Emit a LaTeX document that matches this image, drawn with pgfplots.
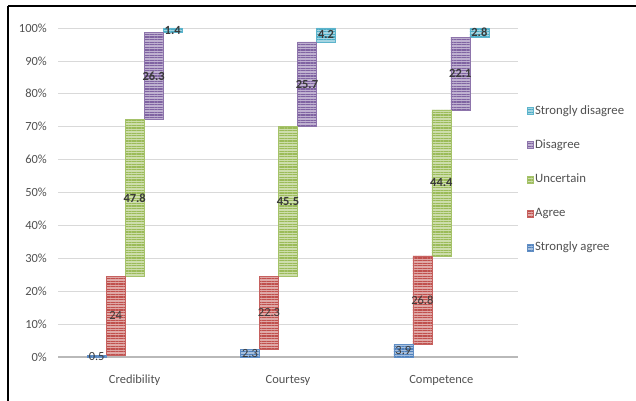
\documentclass[border=0pt]{standalone}
\usepackage{fontspec}
\setmainfont{Carlito}
\usepackage{pgfplots}
\pgfplotsset{compat=1.18}
\usetikzlibrary{patterns.meta}
\definecolor{cSA}{HTML}{4F81BD}
\definecolor{cA}{HTML}{C0504D}
\definecolor{cU}{HTML}{9BBB59}
\definecolor{cD}{HTML}{8064A2}
\definecolor{cSD}{HTML}{4BACC6}
\definecolor{tgray}{HTML}{505050}
\definecolor{lgray}{HTML}{3A3A3A}
\pgfplotsset{
  barsty/.style={fill=#1!50, draw=#1!90, line width=0.4bp,
    postaction={pattern={Lines[angle=0,distance=2.6bp,line width=1.3bp]}, pattern color=#1}},
  lbl/.style={nodes near coords={\pgfmathprintnumber{\rawy}},
    visualization depends on=rawy \as \rawy,
    every node near coord/.append style={anchor=center, inner sep=0pt,
      text=lgray, font=\fontsize{12.5}{14}\selectfont#1}},
}
\begin{document}
\begin{tikzpicture}[font=\fontsize{12.5}{14}\selectfont]
\useasboundingbox (-58bp,-44bp) rectangle (578bp,357bp);
\draw[line width=1.2bp] (-50bp,351bp) -- (578bp,351bp);
\draw[line width=1.2bp] (-50bp,351bp) -- (-50bp,-44bp);
\begin{axis}[at={(0,0)}, anchor=south west, scale only axis,
  width=460bp, height=329bp,
  ybar stacked, bar width=19bp,
  xmin=-0.5, xmax=2.5, ymin=0, ymax=100,
  clip=false,
  xtick={0,1,2}, xticklabels={Credibility,Courtesy,Competence},
  ytick={0,10,...,100},
  yticklabel={\pgfmathprintnumber{\tick}\%},
  /pgf/number format/assume math mode=true,
  axis x line*=bottom, axis y line*=left,
  y axis line style={draw=none},
  x axis line style={draw=gray!55, line width=1.6bp, -},
  major tick length=0pt,
  ymajorgrids, grid style={draw=gray!30, line width=0.75bp},
  tick label style={text=tgray, font=\fontsize{12.5}{14}\selectfont},
  yticklabel style={anchor=east, inner sep=0pt, xshift=-11bp},
  xticklabel style={anchor=north, inner sep=0pt, yshift=-18bp},
  legend image code/.code={\fill[#1] (0bp,-3.5bp) rectangle (6bp,3.5bp);},
  legend style={at={(1.0196,0.541)}, anchor=west, draw=none, fill=none,
    row sep=21bp, font=\fontsize{12.8}{14}\selectfont, text=tgray,
    inner sep=0pt, nodes={inner sep=1.5bp}},
  legend cell align=left,
  reverse legend,
]
\addplot[barsty=cSA, bar shift=-38bp, lbl=] coordinates {(0,0.5) (1,2.3) (2,3.9)};
\addlegendentry{Strongly agree}
\addplot[barsty=cA, bar shift=-19bp, lbl=] coordinates {(0,24) (1,22.3) (2,26.8)};
\addlegendentry{Agree}
\addplot[barsty=cU, bar shift=0bp, lbl=\bfseries] coordinates {(0,47.8) (1,45.5) (2,44.4)};
\addlegendentry{Uncertain}
\addplot[barsty=cD, bar shift=19bp, lbl=\bfseries] coordinates {(0,26.3) (1,25.7) (2,22.1)};
\addlegendentry{Disagree}
\addplot[barsty=cSD, bar shift=38bp, lbl=\bfseries] coordinates {(0,1.4) (1,4.2) (2,2.8)};
\addlegendentry{Strongly disagree}
\end{axis}
\end{tikzpicture}
\end{document}
